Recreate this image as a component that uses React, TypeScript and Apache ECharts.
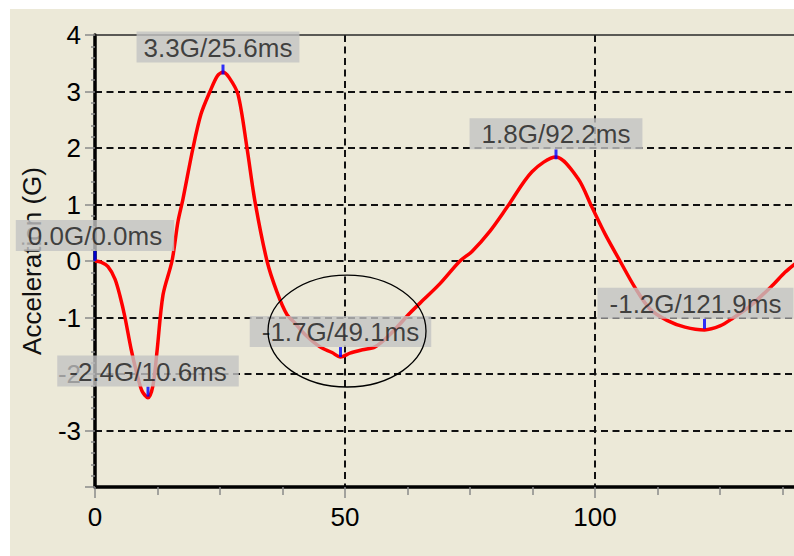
import React, { useEffect, useRef } from "react";
import * as echarts from "echarts";

// Acceleration trace (time in ms, acceleration in G)
const timeMs = [
  0, 1.2, 2.6, 4, 5, 6, 7.2, 8.4, 9.4, 10.6,
  11.6, 12.4, 13.6, 15.4, 16.6, 17.6, 19.6, 21.2, 23, 24.5,
  25.6, 26.8, 28.6, 30.4, 32, 34.4, 36.4, 38.4, 40, 42,
  45, 47.4, 49.1, 51, 53.5, 56, 59, 63, 66, 69,
  73, 75.4, 79, 82.4, 87.4, 92.2, 96.6, 99.4, 102, 105,
  108, 111, 114.4, 118, 121.9, 125, 127.6, 131, 135.4, 138,
  140,
];
const accelG = [
  0, -0.02, -0.1, -0.32, -0.62, -1.0, -1.55, -2.0, -2.3, -2.42,
  -2.2, -1.6, -0.6, 0, 0.7, 1.1, 2.0, 2.6, 3.0, 3.28,
  3.34, 3.25, 2.95, 2.0, 1.05, 0, -0.55, -0.95, -1.1, -1.3,
  -1.52, -1.62, -1.7, -1.63, -1.57, -1.52, -1.3, -0.92, -0.66, -0.4,
  0, 0.17, 0.53, 0.95, 1.58, 1.84, 1.46, 0.95, 0.48, 0,
  -0.47, -0.85, -1.05, -1.17, -1.22, -1.15, -1.01, -0.8, -0.44, -0.2,
  -0.05,
];

// Marked extrema
const peakTimes = [0, 10.6, 25.6, 49.1, 92.2, 121.9];
const peakValues = [0, -2.4, 3.3, -1.7, 1.8, -1.2];

// Highlight ellipse: centre time, centre G, half-width (ms), half-height (G)
const highlight = [50.4, -1.24, 15.8, 0.99];

// Axis ranges
const xRange = [0, 150];
const xVisibleMax = 140;
const xStep = 50;
const yRange = [-4, 4];
const yStep = 1;

const FONT = "Liberation Sans";

export default function App() {
  const ref = useRef<HTMLDivElement>(null);

  useEffect(() => {
    if (!ref.current) return;
    const chart = echarts.init(ref.current, undefined, { renderer: "svg" });

    const tickColor = "#8a8a8a";
    const gridLine = { type: [7, 4.5], color: "#111", width: 2 };

    const option: any = {
      animation: false,
      backgroundColor: "#ECE9D8",
      textStyle: { fontFamily: FONT },
      grid: { left: 85, top: 26, width: 750, height: 452, containLabel: false, outerBoundsMode: "none" },
      xAxis: [
        {
          type: "value",
          z: 0,
          min: xRange[0],
          max: xRange[1],
          interval: xStep,
          axisLine: { onZero: false, lineStyle: { color: "#000", width: 3.5 } },
          axisTick: { show: true, length: 11, lineStyle: { color: tickColor, width: 1.5 } },
          minorTick: { show: true, splitNumber: 4, length: 8, lineStyle: { color: tickColor, width: 1.5 } },
          axisLabel: {
            fontSize: 26,
            color: "#000",
            margin: 17,
            fontFamily: FONT,
            formatter: (v: number) => (v > xVisibleMax ? "" : String(v)),
          },
          splitLine: { show: true, showMinLine: false, showMaxLine: false, lineStyle: gridLine },
        },
        {
          type: "value",
          z: 0,
          position: "top",
          min: xRange[0],
          max: xRange[1],
          interval: xStep,
          axisLine: { show: true, onZero: false, lineStyle: { color: "#2a2a2a", width: 1.5 } },
          axisTick: { show: false },
          axisLabel: { show: false },
          splitLine: { show: false },
        },
      ],
      yAxis: {
        type: "value",
        z: 0,
        min: yRange[0],
        max: yRange[1],
        interval: yStep,
        name: "Acceleration (G)",
        nameLocation: "middle",
        nameGap: 50,
        nameRotate: 90,
        nameTextStyle: { fontSize: 26, color: "#111", fontFamily: FONT },
        axisLine: { onZero: false, lineStyle: { color: "#000", width: 3.5 } },
        axisTick: { show: true, length: 10, lineStyle: { color: tickColor, width: 1.5 } },
        minorTick: { show: true, splitNumber: 5, length: 4, lineStyle: { color: tickColor, width: 1.5 } },
        axisLabel: {
          fontSize: 26,
          color: "#000",
          margin: 14,
          fontFamily: FONT,
          formatter: (v: number) => (v === yRange[0] ? "" : String(v)),
        },
        splitLine: { show: true, showMinLine: false, showMaxLine: false, lineStyle: gridLine },
      },
      series: [
        {
          type: "line",
          z: 3,
          data: timeMs.map((t, i) => [t, accelG[i]]),
          symbol: "none",
          showSymbol: false,
          smooth: 0.3,
          lineStyle: { color: "#FF0000", width: 3.5 },
        },
        {
          type: "scatter",
          zlevel: 1,
          z: 20,
          symbol: "rect",
          symbolSize: [3, 10],
          symbolOffset: [0, -5],
          itemStyle: { color: "#0000FF" },
          data: peakTimes.map((t, i) => {
            const item: any = { value: [t, peakValues[i]] };
            if (i === peakTimes.length - 1) item.label = { offset: [-9, 0] };
            if (i === 2) item.label = { offset: [-5, -2], padding: [3, 7, 2, 7] };
            return item;
          }),
          label: {
            show: true,
            position: "top",
            distance: 0,
            formatter: (p: any) => `${p.value[1].toFixed(1)}G/${p.value[0].toFixed(1)}ms`,
            backgroundColor: "#C3C3C3",
            padding: [3, 12, 2, 12],
            fontSize: 26,
            lineHeight: 26,
            color: "#1a1a1a",
            fontFamily: FONT,
          },
        },
        {
          type: "custom",
          zlevel: 1,
          z: 30,
          silent: true,
          clip: false,
          data: [highlight],
          renderItem: (_params: any, api: any) => {
            const c = api.coord([api.value(0), api.value(1)]);
            const s = api.size([api.value(2), api.value(3)]);
            return {
              type: "ellipse",
              shape: { cx: c[0], cy: c[1], rx: s[0], ry: s[1] },
              style: { fill: "none", stroke: "#000", lineWidth: 1.3 },
            };
          },
        },
      ],
    };

    chart.setOption(option);
    return () => chart.dispose();
  }, []);

  return (
    <div style={{ position: "fixed", left: 0, top: 0, width: 794, height: 556, background: "#ffffff" }}>
      <div ref={ref} style={{ position: "absolute", left: 10, top: 9, width: 784, height: 547 }} />
    </div>
  );
}
